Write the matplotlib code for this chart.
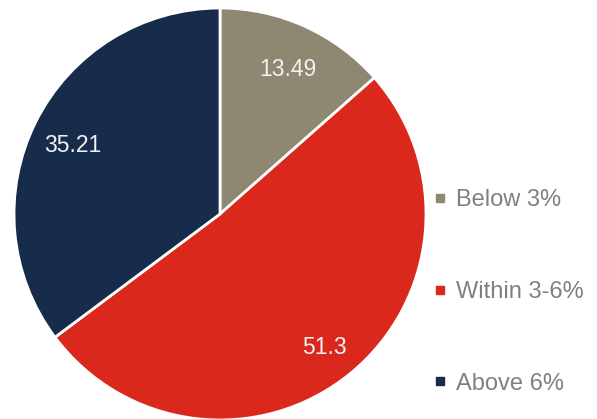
import matplotlib
matplotlib.use('Agg')
import numpy as np
from matplotlib import pyplot as plt
from matplotlib.lines import Line2D

labels = ['Below 3%', 'Within 3-6%', 'Above 6%']
values = [13.49, 51.3, 35.21]
value_labels = ['13.49', '51.3', '35.21']
colors = ['#8E8872', '#DA291C', '#172B4A']

plt.rcParams['font.family'] = ['Liberation Sans', 'DejaVu Sans']

W, H = 597, 419
fig = plt.figure(figsize=(W / 100, H / 100), dpi=100)

# pie centre ~ (220, 214) px, radius ~ 206 px
cx, cy, r = 220, 214, 206
ax = fig.add_axes([(cx - r) / W, (H - cy - r) / H, 2 * r / W, 2 * r / H])

wedges, _ = ax.pie(values, colors=colors, startangle=90, counterclock=False,
                   wedgeprops=dict(edgecolor='white', linewidth=2))
# value labels inside slices, a bit below the mid-angle point
for w, txt in zip(wedges, value_labels):
    ang = np.deg2rad((w.theta1 + w.theta2) / 2)
    ax.text(0.8 * np.cos(ang), 0.8 * np.sin(ang) - 0.028, txt, ha='center', va='center',
            color='#F2F2F2', fontsize=16.5)
ax.set_xlim(-1, 1)
ax.set_ylim(-1, 1)
ax.set_aspect('equal')
ax.axis('off')

handles = [Line2D([], [], marker='s', linestyle='none', markersize=6,
                  markerfacecolor=c, markeredgecolor=c) for c in colors]
fig.legend(handles, labels, loc='center left', bbox_to_anchor=(412 / W, (H - 292) / H),
           frameon=False, fontsize=17, labelcolor='#808080', labelspacing=2.95,
           handlelength=0.6, handletextpad=0.35)

fig.savefig('out.png', dpi=100)
